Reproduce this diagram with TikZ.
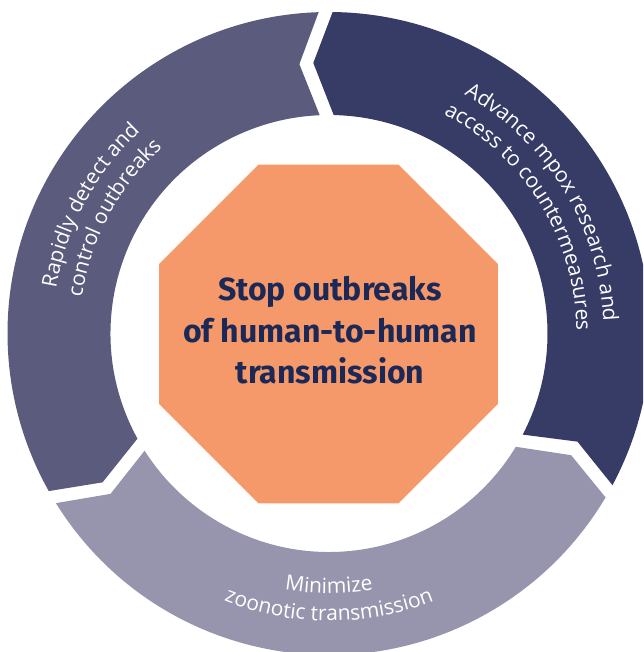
\documentclass[tikz,border=0pt]{standalone}
\usepackage{fontspec}
\setmainfont{Open Sans}
\newfontfamily\centerfont{Fira Sans}
\usetikzlibrary{decorations.text}
\definecolor{segleft}{HTML}{5B5B7E}
\definecolor{segright}{HTML}{363C66}
\definecolor{segbottom}{HTML}{9794AD}
\definecolor{octfill}{HTML}{F6996A}
\definecolor{navy}{HTML}{1C2957}
\begin{document}
\begin{tikzpicture}[x=1pt,y=1pt,
  seg/.style={fill=#1, draw=none},
  ringtext/.style={decorate, decoration={text along path, text align=center,
     text={|\fontsize{21}{25}\selectfont\color{white}|#1}}},
  centertext/.style={font=\centerfont\bfseries\fontsize{32}{38}\selectfont, text=navy, inner sep=0pt, anchor=base}]
\useasboundingbox (-329,-318.5) rectangle (314,333.5);
\clip (-329,-318.5) rectangle (314,333.5);
% right (dark) segment
\fill[seg=segright] (-27.56:218.5pt) -- (-23.52:271pt) -- (-28.15:321.5pt)
  arc[start angle=-28.15, end angle=89.35, radius=321.5pt]
  -- (93.32:271pt) -- (88.76:218.5pt)
  arc[start angle=88.76, end angle=-27.56, radius=218.5pt] -- cycle;
% left segment
\fill[seg=segleft] (92.44:218.5pt) -- (96.28:271pt) -- (91.85:321.5pt)
  arc[start angle=91.85, end angle=209.35, radius=321.5pt]
  -- (213.32:271pt) -- (208.76:218.5pt)
  arc[start angle=208.76, end angle=92.44, radius=218.5pt] -- cycle;
% bottom segment
\fill[seg=segbottom] (212.44:218.5pt) -- (216.28:271pt) -- (211.85:321.5pt)
  arc[start angle=211.85, end angle=329.35, radius=321.5pt]
  -- (333.32:271pt) -- (328.76:218.5pt)
  arc[start angle=328.76, end angle=212.44, radius=218.5pt] -- cycle;
% octagon
\fill[octfill] (-70.6,168.8) -- (69.6,168.8) -- (168.8,69.6) -- (168.8,-70.6)
  -- (69.6,-169.8) -- (-70.6,-169.8) -- (-169.8,-70.6) -- (-169.8,69.6) -- cycle;
% centre text
\node[centertext] (l1) at (1,32.5) {Stop outbreaks};
\node[centertext] (l2) at (1,-8.8) {of human-to-human};
\node[centertext] (l3) at (1,-49.8) {transmission};
% ring texts
\path[ringtext={Rapidly detect and}] (206.8:276.6pt) arc[start angle=206.8, end angle=96.8, radius=276.6pt];
\path[ringtext={control outbreaks}] (206.8:249.6pt) arc[start angle=206.8, end angle=96.8, radius=249.6pt];
\path[ringtext={Advance mpox research and}] (86.5:274.6pt) arc[start angle=86.5, end angle=-23.5, radius=274.6pt];
\path[ringtext={access to countermeasures}] (86.5:247.5pt) arc[start angle=86.5, end angle=-23.5, radius=247.5pt];
\path[ringtext={Minimize}] (215:259.8pt) arc[start angle=215, end angle=325, radius=259.8pt];
\path[ringtext={zoonotic transmission}] (215:287.3pt) arc[start angle=215, end angle=325, radius=287.3pt];
\end{tikzpicture}
\end{document}
